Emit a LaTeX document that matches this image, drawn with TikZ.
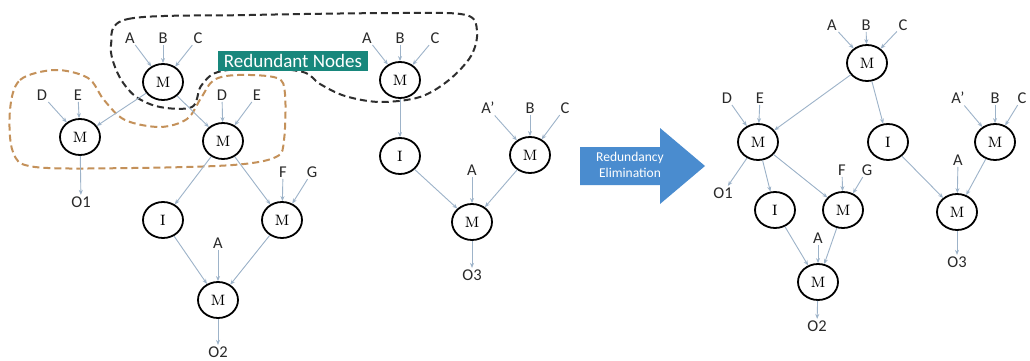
\documentclass[tikz,border=0pt]{standalone}
\usepackage{fontspec}
\newfontfamily\carlito{Carlito}
\usetikzlibrary{shapes.geometric,arrows.meta}
\definecolor{edgeblue}{HTML}{9DB3C9}
\definecolor{inkgray}{HTML}{2A2A2A}
\definecolor{boxteal}{HTML}{18877C}
\definecolor{arrowblue}{HTML}{4A8CCF}
\definecolor{groupblack}{HTML}{2E2E2E}
\definecolor{grouporange}{HTML}{C4915A}
\begin{document}
\begin{tikzpicture}[x=1pt,y=-1pt,
  op/.style={ellipse,draw=black,fill=white,line width=1.8pt,minimum width=40pt,
    minimum height=36pt,inner sep=0pt,font=\fontsize{20}{20}\selectfont},
  lbl/.style={inner sep=1.5pt,text=inkgray,font=\carlito\fontsize{16.5}{16.5}\selectfont},
  flow/.style={draw=edgeblue,line width=0.9pt,-{Stealth[length=5pt,width=4pt]}},
  group/.style={dash pattern=on 7pt off 4pt,line width=2pt}]
\useasboundingbox (0,0) rectangle (1030,361);
\fill[white] (0,0) rectangle (1030,361);

% dashed groupings of the redundant nodes
\draw[group,groupblack] plot[smooth cycle,tension=0.55] coordinates {
  (111,45) (128,19) (250,15) (400,13) (466,15) (477,32) (471,56) (449,80)
  (420,97) (380,102) (345,96) (320,84) (303,72) (260,68) (218,72) (201,86)
  (192,107) (160,107) (135,96) (118,74)};
\draw[group,grouporange] plot[smooth cycle,tension=0.55] coordinates {
  (10,110) (20,80) (55,70) (88,78) (104,100) (125,120) (160,127) (187,119)
  (201,98) (214,80) (238,75) (277,78) (285,94) (284,140) (276,157) (233,165)
  (133,168) (35,167) (13,152)};

\node[fill=boxteal,text=white,inner sep=0pt,minimum width=150pt,minimum height=19pt,
  font=\carlito\fontsize{19}{19}\selectfont] (rn) at (293,61) {Redundant Nodes};

% ---- original graph (left) ----
\node[op] (m1) at (163,82) {\textsc{m}};
\node[lbl] (a1) at (130,38) {A};
\node[lbl] (b1) at (163,38) {B};
\node[lbl] (c1) at (198,38) {C};
\node[op] (m2) at (80,137) {\textsc{m}};
\node[lbl] (d2) at (42,95) {D};
\node[lbl] (e2) at (78,95) {E};
\node[op] (m3) at (223,141) {\textsc{m}};
\node[lbl] (d3) at (222,95) {D};
\node[lbl] (e3) at (257,95) {E};
\node[lbl] (o1) at (81,202) {O1};
\node[op] (i1) at (163,220) {\textsc{i}};
\node[op] (m4) at (282,220) {\textsc{m}};
\node[lbl] (f4) at (283,172) {F};
\node[lbl] (g4) at (312,172) {G};
\node[op] (m5) at (218,300) {\textsc{m}};
\node[lbl] (a5) at (218,243) {A};
\node[lbl] (o2) at (218,352) {O2};

\foreach \s in {a1,b1,c1} \draw[flow] (\s) -- (m1);
\foreach \s in {d2,e2} \draw[flow] (\s) -- (m2);
\foreach \s in {d3,e3} \draw[flow] (\s) -- (m3);
\draw[flow] (m1) -- (m2);
\draw[flow] (m1) -- (m3);
\draw[flow] (m2) -- (o1);
\draw[flow] (m3) -- (i1);
\draw[flow] (m3) -- (m4);
\foreach \s in {f4,g4} \draw[flow] (\s) -- (m4);
\draw[flow] (i1) -- (m5);
\draw[flow] (m4) -- (m5);
\draw[flow] (a5) -- (m5);
\draw[flow] (m5) -- (o2);

% ---- original graph (middle) ----
\node[op] (m6) at (400,80) {\textsc{m}};
\node[lbl] (a6) at (367,38) {A};
\node[lbl] (b6) at (400,38) {B};
\node[lbl] (c6) at (435,38) {C};
\node[op] (i2) at (400,156) {\textsc{i}};
\node[op] (m7) at (530,155) {\textsc{m}};
\node[lbl] (a7) at (488,108) {A’};
\node[lbl] (b7) at (530,108) {B};
\node[lbl] (c7) at (565,108) {C};
\node[op] (m8) at (472,222) {\textsc{m}};
\node[lbl] (a8) at (472,170) {A};
\node[lbl] (o3) at (472,275) {O3};

\foreach \s in {a6,b6,c6} \draw[flow] (\s) -- (m6);
\foreach \s in {a7,b7,c7} \draw[flow] (\s) -- (m7);
\draw[flow] (m6) -- (i2);
\draw[flow] (i2) -- (m8);
\draw[flow] (m7) -- (m8);
\draw[flow] (a8) -- (m8);
\draw[flow] (m8) -- (o3);

% ---- transformation arrow ----
\fill[arrowblue] (580,147) -- (660,147) -- (660,128) -- (705,166) -- (660,204)
  -- (660,185) -- (580,185) -- cycle;
\node[text=white,align=center,inner sep=0pt,
  font=\carlito\fontsize{13.5}{16}\selectfont] (re) at (630,165) {Redundancy\\Elimination};

% ---- optimised graph (right) ----
\node[op] (tm) at (867,63) {\textsc{m}};
\node[lbl] (ar) at (832,25) {A};
\node[lbl] (br) at (866,25) {B};
\node[lbl] (cr) at (903,25) {C};
\node[op] (lm) at (758,142) {\textsc{m}};
\node[lbl] (dr) at (727,98) {D};
\node[lbl] (er) at (760,98) {E};
\node[op] (ri) at (888,142) {\textsc{i}};
\node[op] (rm) at (995,142) {\textsc{m}};
\node[lbl] (apr) at (958,98) {A’};
\node[lbl] (bpr) at (995,98) {B};
\node[lbl] (cpr) at (1022,98) {C};
\node[lbl] (o1r) at (723,193) {O1};
\node[op] (i2r) at (775,210) {\textsc{i}};
\node[op] (mfg) at (843,210) {\textsc{m}};
\node[lbl] (fr) at (842,170) {F};
\node[lbl] (gr) at (867,170) {G};
\node[op] (mb) at (818,282) {\textsc{m}};
\node[lbl] (ab) at (818,238) {A};
\node[lbl] (o2r) at (817,326) {O2};
\node[op] (mo3) at (957,212) {\textsc{m}};
\node[lbl] (ao3) at (958,160) {A};
\node[lbl] (o3r) at (957,262) {O3};

\foreach \s in {ar,br,cr} \draw[flow] (\s) -- (tm);
\foreach \s in {dr,er} \draw[flow] (\s) -- (lm);
\foreach \s in {apr,bpr,cpr} \draw[flow] (\s) -- (rm);
\foreach \s in {fr,gr} \draw[flow] (\s) -- (mfg);
\draw[flow] (tm) -- (lm);
\draw[flow] (tm) -- (ri);
\draw[flow] (lm) -- (o1r);
\draw[flow] (lm) -- (i2r);
\draw[flow] (lm) -- (mfg);
\draw[flow] (ri) -- (mo3);
\draw[flow] (rm) -- (mo3);
\draw[flow] (ao3) -- (mo3);
\draw[flow] (i2r) -- (mb);
\draw[flow] (mfg) -- (mb);
\draw[flow] (ab) -- (mb);
\draw[flow] (mb) -- (o2r);
\draw[flow] (mo3) -- (o3r);
\end{tikzpicture}
\end{document}
